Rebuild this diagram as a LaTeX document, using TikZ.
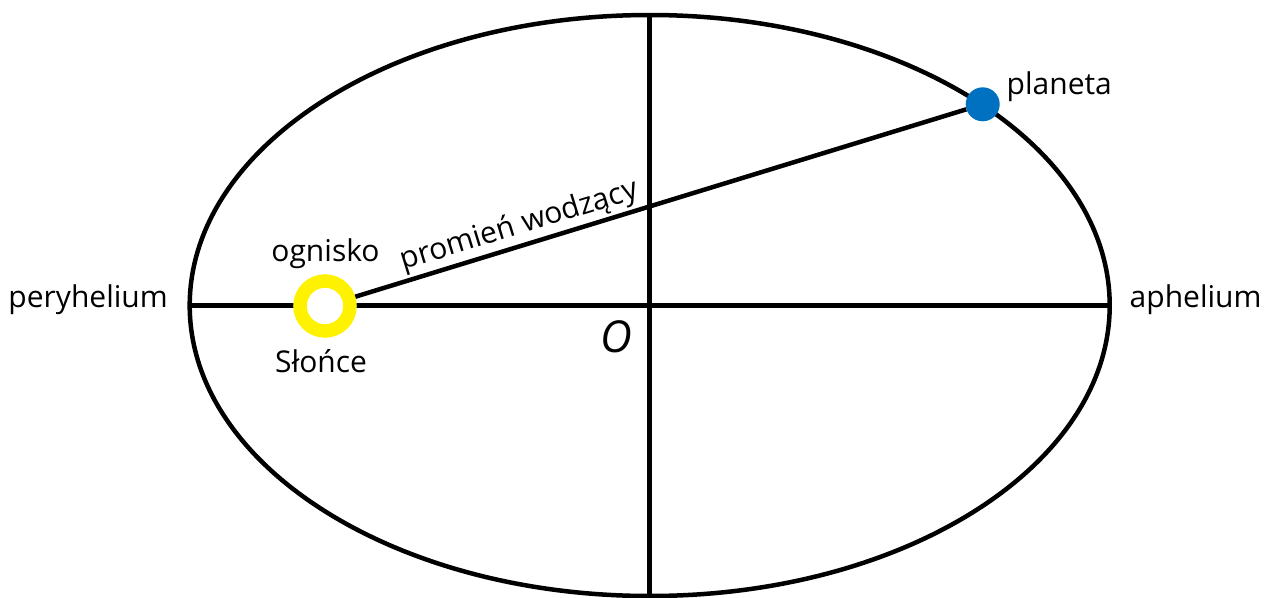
\documentclass[tikz,border=0pt]{standalone}
\usepackage{fontspec}
\setmainfont{Open Sans}
\definecolor{sunyellow}{RGB}{255,242,0}
\definecolor{planetblue}{RGB}{0,112,192}
\begin{document}
\begin{tikzpicture}[x=1pt,y=-1pt,
  axisline/.style={line width=4.5pt,black},
  lbl/.style={font=\fontsize{30}{35}\selectfont,inner sep=0pt},
  sunstyle/.style={circle,draw=sunyellow,line width=13.5pt,fill=white,minimum size=50pt,inner sep=0pt},
  planetstyle/.style={circle,fill=planetblue,minimum size=34pt,inner sep=0pt}]
\useasboundingbox (0,0) rectangle (1273,597);
\coordinate (O) at (649.7,305.5);
\coordinate (peri) at (189.7,305.5);
\coordinate (aph) at (1109.7,305.5);
\coordinate (top) at (649.7,15);
\coordinate (bot) at (649.7,600);
\draw[axisline] (O) ellipse [x radius=460, y radius=290.5];
\draw[axisline] (peri) -- (aph);
\draw[axisline] (top) -- (bot);
\node[sunstyle] (sun) at (325,306) {};
\node[planetstyle] (planet) at (982.7,104.3) {};
\draw[axisline] (sun) -- node[lbl,sloped,above,pos=0.278,inner sep=2pt] (radius) {promień wodzący} (planet);
\node[lbl,anchor=base] (ognisko) at (325.5,261) {ognisko};
\node[lbl,anchor=base] (slonce) at (321,372) {Słońce};
\node[lbl,anchor=base east] (peryh) at (168,307) {peryhelium};
\node[lbl,anchor=base west] (aphel) at (1129.5,307) {aphelium};
\node[lbl,anchor=base west] (planeta) at (1006.5,94) {planeta};
\node[font=\fontsize{44}{50}\selectfont\itshape,inner sep=0pt,anchor=base] (Olabel) at (616.7,352.5) {O};
\end{tikzpicture}
\end{document}
